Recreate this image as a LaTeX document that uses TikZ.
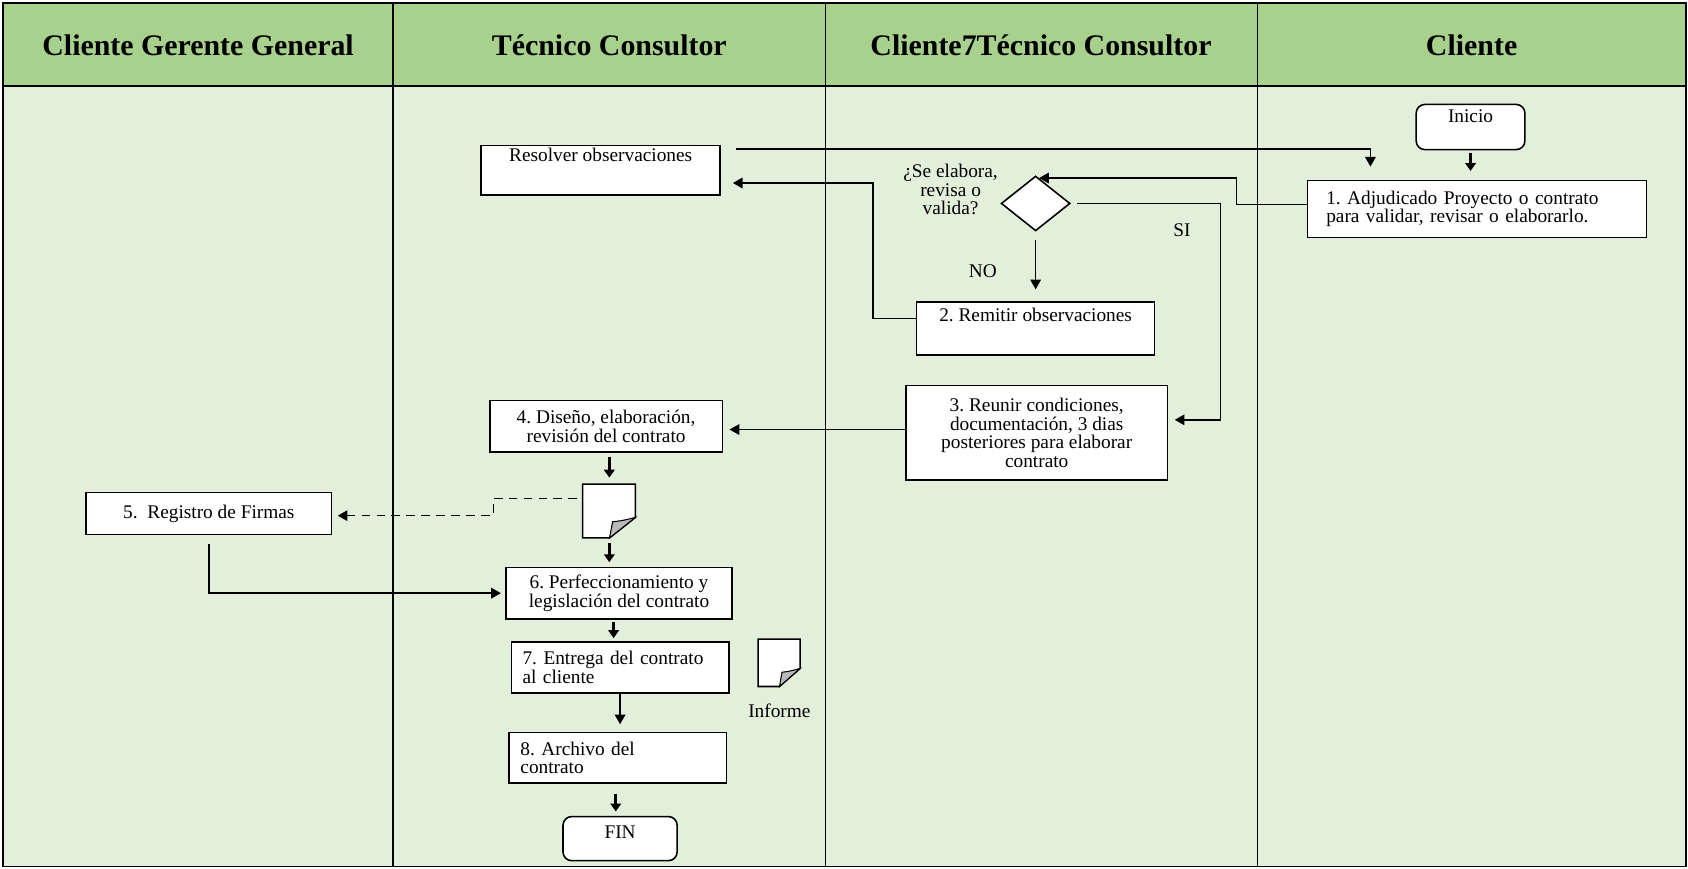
\documentclass[tikz,border=0pt]{standalone}
\usepackage{fontspec}
\setmainfont{Liberation Serif}
\usetikzlibrary{positioning, calc, shapes.geometric, arrows.meta}

\definecolor{headgreen}{HTML}{A9D18E}
\definecolor{lanegreen}{HTML}{E2EFDA}

\tikzset{
    sz/.style 2 args = {minimum width = #1*0.2153mm, minimum height = #2*0.2153mm},
    box/.style = {draw, line width = 0.9pt, fill = white, inner sep = 2pt},
    terminal/.style = {box, rounded corners = 5pt},
    decision/.style = {diamond, draw, line width = 0.9pt, fill = white, inner sep = 0pt},
    boxtext/.style = {inner sep = 2pt},
    flow/.style = {line width = 0.8pt, -{Triangle[length = 5.5pt, width = 6pt]}},
    bigflow/.style = {line width = 1.8pt, -{Triangle[length = 4.5pt, width = 6pt]}},
    lanehead/.style = {font = \fontsize{17}{18}\selectfont\bfseries}
}

% page with folded corner: name, x, y, width, height
\newcommand{\docpage}[5]{%
    \node[sz = {#4}{#5}, inner sep = 0pt] (#1) at (#2, #3) {};
    \begin{scope}[shift = {(#1.north west)}]
        \draw[line width = 0.9pt, fill = white] (0, 0) -- (#4, 0) -- (#4, 0.62*#5) -- (0.51*#4, #5) -- (0, #5) -- cycle;
        \draw[line width = 0.6pt, fill = gray!55] (#4, 0.62*#5) -- (0.51*#4, #5) .. controls (0.53*#4, 0.85*#5) .. (0.57*#4, 0.7*#5) .. controls (0.75*#4, 0.68*#5) .. (#4, 0.62*#5) -- cycle;
    \end{scope}
}

\begin{document}
\begin{tikzpicture}[x = 0.2153mm, y = -0.2153mm, font = \fontsize{11}{10.5}\selectfont\frenchspacing]
    \useasboundingbox (0, 0) rectangle (1568, 807);

    % lanes
    \fill[lanegreen] (3, 80) rectangle (1566, 805);
    \fill[headgreen] (3, 3) rectangle (1566, 80);
    \draw[line width = 0.9pt] (3, 3) rectangle (1566, 805);
    \draw[line width = 0.9pt] (3, 80) -- (1566, 80);
    \foreach \x in {365, 767, 1168}
        \draw[line width = 0.9pt] (\x, 3) -- (\x, 805);

    \node[lanehead] (lane1) at (184, 42) {Cliente Gerente General};
    \node[lanehead] (lane2) at (566, 42) {Técnico Consultor};
    \node[lanehead] (lane3) at (967, 42) {Cliente7Técnico Consultor};
    \node[lanehead] (lane4) at (1367, 42) {Cliente};

    % Cliente
    \node[terminal, sz = {101}{42}] (inicio) at (1366, 118) {};
    \node[boxtext, below = 1.5pt of inicio.north] (inicio-t) {Inicio};
    \node[box, sz = {315}{53}, text width = 60.3mm, align = left] (adj) at (1372, 194)
        {1. Adjudicado Proyecto o contrato\\para validar, revisar o elaborarlo.};

    % Cliente / Tecnico
    \node[decision, sz = {64}{51}] (dec) at (962, 189) {};
    \node[align = center] (pregunta) at (883, 176) {¿Se elabora,\\revisa o\\valida?};
    \node (no) at (913, 252) {NO};
    \node (si) at (1098, 214) {SI};
    \node[box, sz = {221}{49}] (remitir) at (962, 305) {};
    \node[boxtext, below = 1.5pt of remitir.north] (remitir-t) {2. Remitir observaciones};
    \node[box, sz = {243}{88}, align = center] (reunir) at (963, 402)
        {3. Reunir condiciones,\\documentación, 3 dias\\posteriores para elaborar\\contrato};

    % Tecnico Consultor
    \node[box, sz = {222}{46}] (resolver) at (558, 158) {};
    \node[boxtext, below = 0pt of resolver.north] (resolver-t) {Resolver observaciones};
    \node[box, sz = {216}{48}, align = center] (diseno) at (563, 396)
        {4. Diseño, elaboración,\\revisión del contrato};
    \docpage{doc1}{566}{475}{49}{50}
    \node[box, sz = {210}{48}, align = center] (perf) at (575, 551)
        {6. Perfeccionamiento y\\legislación del contrato};
    \node[box, sz = {202}{47}, text width = 39mm, align = left] (entrega) at (576, 620)
        {7. Entrega del contrato\\al cliente};
    \node[box, sz = {202}{47}, text width = 39mm, align = left] (archivo) at (574, 704)
        {8. Archivo del\\contrato};
    \node[terminal, sz = {106}{41}] (fin) at (576, 779) {};
    \node[boxtext, below = 3.5pt of fin.north] (fin-t) {FIN};
    \docpage{doc2}{724}{616}{39}{44}
    \node[below = 6pt of doc2] (informe) {Informe};

    % Gerente General
    \node[box, sz = {228}{39}] (registro) at (194, 477) {5.\ \ Registro de Firmas};

    % connectors
    \draw[bigflow] ($(inicio.south)+(0, 2)$) -- ($(inicio.south |- adj.north)+(0, -8)$);
    \draw[flow] ($(resolver.north east)+(14, 4)$) -| ($(adj.north)+(-99, -12)$);
    \draw[flow] ($(adj.west)+(0, -4)$) -- ++(-65, 0) |- ($(dec.north)!0.1!(dec.east)$);
    \draw[flow] ($(dec.east)+(6, 0)$) -- ++(133, 0) |- ($(reunir.east)+(6, -12)$);
    \draw[flow] ($(dec.south)+(0, 8)$) -- ($(dec.south |- remitir.north)+(0, -11)$);
    \draw[flow] ($(remitir.west)+(0, -9)$) -- ++(-40, 0) |- ($(resolver.east)+(11, 12)$);
    \draw[flow] ($(reunir.west)+(0, -3)$) -- ($(diseno.east |- reunir.west)+(6, -3)$);
    \draw[bigflow] ($(doc1.north |- diseno.south)+(0, 4)$) -- ($(doc1.north)+(0, -6)$);
    \draw[flow, dashed, dash pattern = on 5pt off 3.5pt] ($(doc1.west)+(-5, -12)$) -- ++(-78, 0) |- ($(registro.east)+(5, 2)$);
    \draw[bigflow] ($(doc1.south)+(0, 4)$) -- ($(doc1.south |- perf.north)+(0, -4)$);
    \draw[flow] ($(registro.south)+(0, 8)$) |- ($(perf.west)+(-4, 0)$);
    \draw[bigflow] ($(perf.south)+(-5, 2)$) -- ($(entrega.north -| perf.south)+(-5, -3)$);
    \draw[flow, line width = 1.1pt] (entrega.south) -- ($(entrega.south |- archivo.north)+(0, -7)$);
    \draw[bigflow] ($(archivo.south)+(-2, 9)$) -- ($(archivo.south |- fin.north)+(-2, -4)$);
\end{tikzpicture}
\end{document}
